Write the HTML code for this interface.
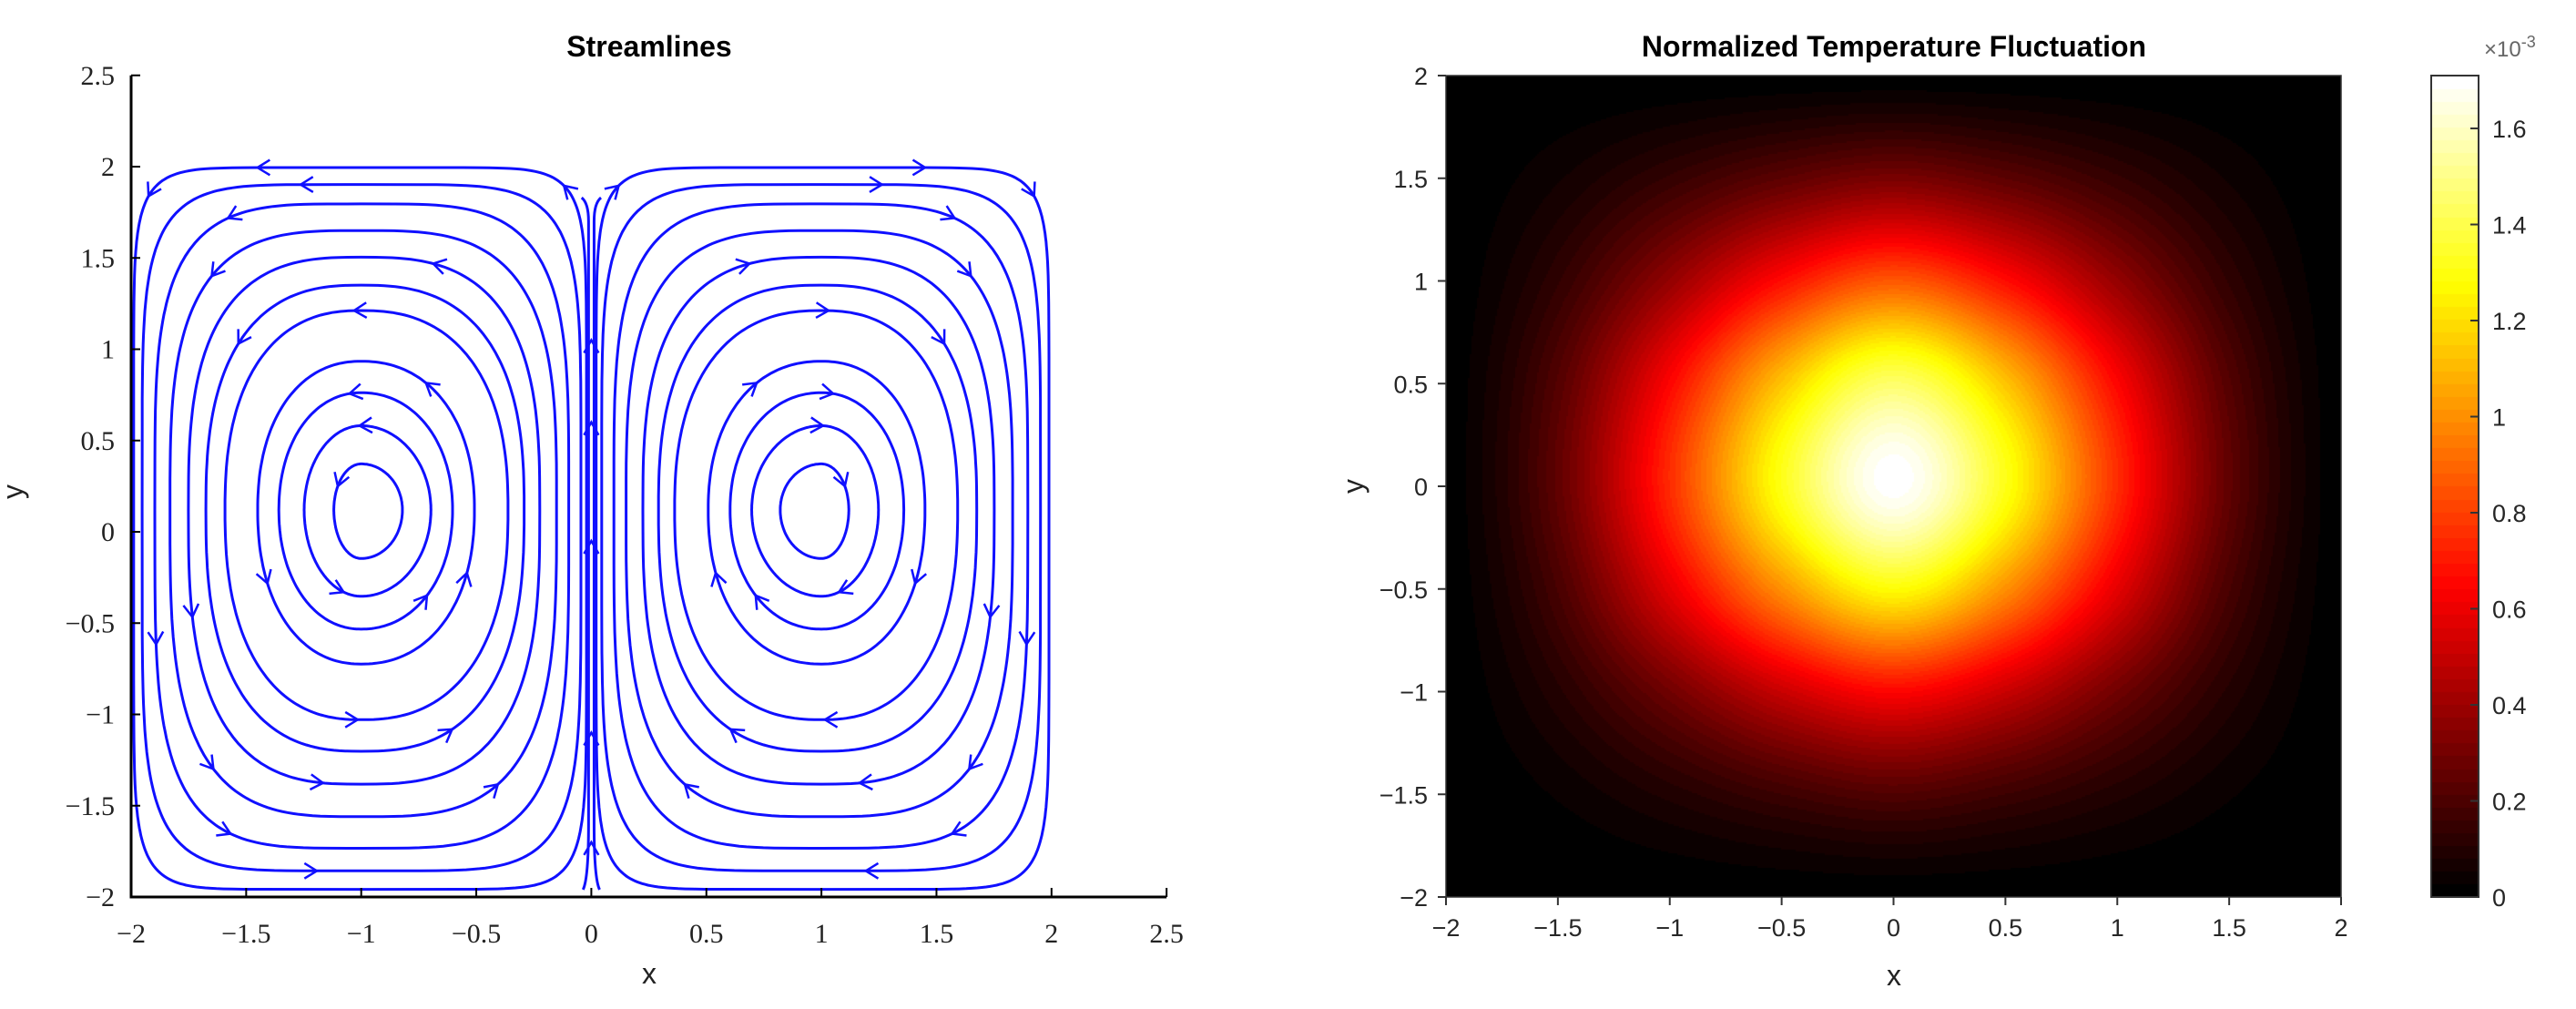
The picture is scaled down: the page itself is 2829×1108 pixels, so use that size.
<!DOCTYPE html>
<html><head><meta charset="utf-8">
<style>
html,body{margin:0;padding:0;background:#fff;}
#wrap{position:relative;width:2829px;height:1108px;overflow:hidden;background:#fff;}
svg{position:absolute;left:0;top:0;}
#heat{position:absolute;left:1588px;top:83px;}
#cbar{position:absolute;left:2670px;top:83px;}
</style></head>
<body>
<div id="wrap">
<canvas id="heat" width="983" height="902"></canvas>
<canvas id="cbar" width="52" height="902"></canvas>
<svg id="svg" width="2829" height="1108" xmlns="http://www.w3.org/2000/svg"></svg>
</div>
<script>
// ---- Streamline data: left cell loops, data units ----
const loopXmin = [-1.119,-1.248,-1.358,-1.450,-1.592,-1.675,-1.751,-1.831,-1.897,-1.952,-1.989];
const loopXmax = [-0.821,-0.697,-0.603,-0.508,-0.362,-0.292,-0.224,-0.151,-0.098,-0.045,-0.021];
const loopYmax = [0.372,0.581,0.762,0.934,1.212,1.351,1.504,1.650,1.796,1.902,1.995];
const loopYmin = [-0.146,-0.353,-0.533,-0.724,-1.029,-1.202,-1.382,-1.560,-1.733,-1.857,-1.958];
const cellCenterX = -1.0, cellCenterY = 0.12;
const xTicksLeft = [-2,-1.5,-1,-0.5,0,0.5,1,1.5,2,2.5];
const yTicksLeft = [2.5,2,1.5,1,0.5,0,-0.5,-1,-1.5,-2];
// ---- Heatmap data (values x1e-3), rows y=2..-2, cols x=-2..2 step 0.5 ----
const heatX = [-2,-1.5,-1,-0.5,0,0.5,1,1.5,2];
const heatY = [2,1.5,1,0.5,0,-0.5,-1,-1.5,-2];
const heatRow0 = [0,0,0,0,0,0,0,0,0];
const heatRow1 = [0,.05,.14,.24,.31,.24,.14,.05,0];
const heatRow2 = [0,.13,.38,.67,.86,.67,.38,.13,0];
const heatRow3 = [0,.22,.65,1.13,1.45,1.13,.65,.22,0];
const heatRow4 = [0,.25,.75,1.31,1.70,1.31,.75,.25,0];
const heatRow5 = [0,.19,.58,1.00,1.28,1.00,.58,.19,0];
const heatRow6 = [0,.10,.29,.51,.65,.51,.29,.10,0];
const heatRow7 = [0,.03,.09,.16,.21,.16,.09,.03,0];
const heatRow8 = [0,0,0,0,0,0,0,0,0];
const heatRows = [heatRow0,heatRow1,heatRow2,heatRow3,heatRow4,heatRow5,heatRow6,heatRow7,heatRow8];
const cMin = 0, cMax = 1.71;
const xTicksRight = [-2,-1.5,-1,-0.5,0,0.5,1,1.5,2];
const yTicksRight = [2,1.5,1,0.5,0,-0.5,-1,-1.5,-2];
const cbarTicks = [0,0.2,0.4,0.6,0.8,1,1.2,1.4,1.6];

const NS="http://www.w3.org/2000/svg";
const svg=document.getElementById('svg');
function mk(tag,attrs,parent){const e=document.createElementNS(NS,tag);for(const k in attrs)e.setAttribute(k,attrs[k]);(parent||svg).appendChild(e);return e;}
function fmt(v){return (v<0?'\u2212':'')+String(Math.abs(v));}

const LX=x=>144+(x+2)*252.7, LY=y=>183+(2-y)*200.5;
const RX=x=>1588+(x+2)*245.75, RY=y=>83+(2-y)*225.5;
const CY=v=>985-(v-cMin)/(cMax-cMin)*902;

// ---------- LEFT: streamlines ----------
const gL=mk('g',{});


const sq=[2,2,2.1,2.2,2.4,2.6,2.9,3.3,4,5.5,9];
function loopPt(i,th,mirror){
  const c=Math.cos(th), s=Math.sin(th), n=sq[i];
  const pc=Math.sign(c)*Math.pow(Math.abs(c),2/n), ps=Math.sign(s)*Math.pow(Math.abs(s),2/n);
  let x = pc>=0 ? cellCenterX+pc*(loopXmax[i]-cellCenterX) : cellCenterX+pc*(cellCenterX-loopXmin[i]);
  let y = ps>=0 ? cellCenterY+ps*(loopYmax[i]-cellCenterY) : cellCenterY+ps*(cellCenterY-loopYmin[i]);
  if(mirror) x=-x;
  return [LX(x),LY(y)];
}
const arrowTh=[[2.6],[1.6,4.4],[1.7,5.5],[1.0,3.6,5.9],[1.6,4.7],[2.4,5.2],[1.3,3.4,4.6],[2.3,4.0,5.3],[2.0,3.3,4.3],[1.6,4.7],[1.6,2.4,0.9]];
[false,true].forEach(mirror=>{
  for(let i=0;i<loopXmin.length;i++){
    let d='';
    for(let k=0;k<=240;k++){const p=loopPt(i,k/240*2*Math.PI,mirror);d+=(k?'L':'M')+p[0].toFixed(1)+' '+p[1].toFixed(1);}
    const path=mk('path',{d:d+'Z',fill:'none',stroke:'#1010ff','stroke-width':3},gL);
    
    
    arrowTh[i].forEach(th=>{
      const a=loopPt(i,th,mirror), b=loopPt(i,th+0.02,mirror);
      const ang=Math.atan2(b[1]-a[1],b[0]-a[0]);
      const L=16,W=0.55;
      const p1=[a[0]-L*Math.cos(ang-W),a[1]-L*Math.sin(ang-W)];
      const p2=[a[0]-L*Math.cos(ang+W),a[1]-L*Math.sin(ang+W)];
      const ar=mk('path',{d:`M${p1[0]} ${p1[1]}L${a[0]} ${a[1]}L${p2[0]} ${p2[1]}`,fill:'none',stroke:'#1010ff','stroke-width':2.5},gL);
      
      
    });
  }
});
[-0.012,0.012].forEach((x0,j)=>{
  const sx=x0<0?-1:1;
  const d=`M${LX(x0*3)} ${LY(-1.96)} Q${LX(x0)} ${LY(-1.9)} ${LX(x0)} ${LY(-1.6)} L${LX(x0)} ${LY(1.7)} Q${LX(x0)} ${LY(1.8)} ${LX(x0+sx*0.03)} ${LY(1.83)}`;
  const p=mk('path',{d:d,fill:'none',stroke:'#1010ff','stroke-width':3},gL);
  
  
});
[-1.7,-1.1,-0.05,0.6,1.05].forEach(yv=>{
  const a=[LX(0),LY(yv)];
  const ar=mk('path',{d:`M${a[0]-8} ${a[1]+14}L${a[0]} ${a[1]}L${a[0]+8} ${a[1]+14}`,fill:'none',stroke:'#1010ff','stroke-width':2.5},gL);
  
  
});
const axL=mk('path',{d:`M${LX(-2)} ${LY(2.5)}L${LX(-2)} ${LY(-2)}L${LX(2.5)} ${LY(-2)}`,fill:'none',stroke:'#000','stroke-width':3});


xTicksLeft.forEach(v=>{
  const t=mk('line',{x1:LX(v),x2:LX(v),y1:LY(-2),y2:LY(-2)-10,stroke:'#000','stroke-width':2});
  
  
  const l=mk('text',{x:LX(v),y:1035,'text-anchor':'middle','font-family':'Liberation Serif, serif','font-size':30,fill:'#222'});
  l.textContent=fmt(v);
  
  
});
yTicksLeft.forEach(v=>{
  const t=mk('line',{x1:LX(-2),x2:LX(-2)+10,y1:LY(v),y2:LY(v),stroke:'#000','stroke-width':2});
  
  
  const l=mk('text',{x:126,y:LY(v)+10,'text-anchor':'end','font-family':'Liberation Serif, serif','font-size':30,fill:'#222'});
  l.textContent=fmt(v);
  
  
});
let t;
t=mk('text',{x:713,y:62,'text-anchor':'middle','font-family':'Liberation Sans, sans-serif','font-size':32,'font-weight':'bold',fill:'#000'});t.textContent='Streamlines';

t=mk('text',{x:713,y:1080,'text-anchor':'middle','font-family':'Liberation Sans, sans-serif','font-size':32,fill:'#222'});t.textContent='x';

t=mk('text',{x:25,y:540,'text-anchor':'middle','font-family':'Liberation Sans, sans-serif','font-size':32,fill:'#222',transform:'rotate(-90 25 540)'});t.textContent='y';


// ---------- RIGHT: heatmap ----------
function hot(v){
  let s=(v-cMin)/(cMax-cMin); s=Math.max(0,Math.min(1,s));
  s=Math.floor(s*63.999)/63;
  const r=Math.min(1,s/0.375), g=Math.max(0,Math.min(1,(s-0.375)/0.375)), b=Math.max(0,Math.min(1,(s-0.75)/0.25));
  return [r*255,g*255,b*255];
}
function cr(p0,p1,p2,p3,t){return 0.5*((2*p1)+(-p0+p2)*t+(2*p0-5*p1+4*p2-p3)*t*t+(-p0+3*p1-3*p2+p3)*t*t*t);}
function gv(r,c){r=Math.max(0,Math.min(heatY.length-1,r));c=Math.max(0,Math.min(heatX.length-1,c));return heatRows[r][c];}
function sample(x,y){
  const fc=(x-heatX[0])/(heatX[1]-heatX[0]), fr=(heatY[0]-y)/(heatY[0]-heatY[1]);
  const c=Math.min(heatX.length-2,Math.floor(fc)), r=Math.min(heatY.length-2,Math.floor(fr));
  const tx=fc-c, ty=fr-r;
  const rows=[];
  for(let k=-1;k<=2;k++) rows.push(cr(gv(r+k,c-1),gv(r+k,c),gv(r+k,c+1),gv(r+k,c+2),tx));
  return Math.max(0,cr(rows[0],rows[1],rows[2],rows[3],ty));
}
const hc=document.getElementById('heat').getContext('2d');
const W=983,H=902,img=hc.createImageData(W,H);
for(let py=0;py<H;py+=2){for(let px=0;px<W;px+=2){
  const x=-2+(px+1)/245.75, y=2-(py+1)/225.5;
  const col=hot(sample(x,y));
  for(let dy=0;dy<2;dy++)for(let dx=0;dx<2;dx++){
    if(px+dx>=W||py+dy>=H)continue;
    const i=((py+dy)*W+px+dx)*4;img.data[i]=col[0];img.data[i+1]=col[1];img.data[i+2]=col[2];img.data[i+3]=255;}
}}
hc.putImageData(img,0,0);
const cc=document.getElementById('cbar').getContext('2d');
for(let py=0;py<902;py++){const c=hot(cMax-(py/902)*(cMax-cMin));cc.fillStyle=`rgb(${c[0]|0},${c[1]|0},${c[2]|0})`;cc.fillRect(0,py,52,1);}

const boxR=mk('rect',{x:RX(-2),y:RY(2),width:RX(2)-RX(-2),height:RY(-2)-RY(2),fill:'none',stroke:'#333','stroke-width':1.5});

xTicksRight.forEach(v=>{
  const tk=mk('line',{x1:RX(v),x2:RX(v),y1:RY(-2),y2:RY(-2)+9,stroke:'#333','stroke-width':2});
  
  const l=mk('text',{x:RX(v),y:1028,'text-anchor':'middle','font-family':'Liberation Sans, sans-serif','font-size':27,fill:'#262626'});
  l.textContent=fmt(v);
});
yTicksRight.forEach(v=>{
  const tk=mk('line',{x1:RX(-2)-9,x2:RX(-2),y1:RY(v),y2:RY(v),stroke:'#333','stroke-width':2});
  
  const l=mk('text',{x:1568,y:RY(v)+10,'text-anchor':'end','font-family':'Liberation Sans, sans-serif','font-size':27,fill:'#262626'});
  l.textContent=fmt(v);
});
t=mk('text',{x:2080,y:62,'text-anchor':'middle','font-family':'Liberation Sans, sans-serif','font-size':32,'font-weight':'bold',fill:'#000'});t.textContent='Normalized Temperature Fluctuation';

t=mk('text',{x:2080,y:1082,'text-anchor':'middle','font-family':'Liberation Sans, sans-serif','font-size':32,fill:'#222'});t.textContent='x';

t=mk('text',{x:1497,y:534,'text-anchor':'middle','font-family':'Liberation Sans, sans-serif','font-size':32,fill:'#222',transform:'rotate(-90 1497 534)'});t.textContent='y';


const cb=mk('rect',{x:2670,y:83,width:52,height:902,fill:'none',stroke:'#333','stroke-width':2});

cbarTicks.forEach(v=>{
  const tk=mk('line',{x1:2713,x2:2722,y1:CY(v),y2:CY(v),stroke:'#333','stroke-width':2});
  
  const l=mk('text',{x:2737,y:CY(v)+10,'text-anchor':'start','font-family':'Liberation Sans, sans-serif','font-size':27,fill:'#262626'});
  l.textContent=String(v);
});
t=mk('text',{x:2728,y:62,'font-family':'Liberation Sans, sans-serif','font-size':24,fill:'#666'});

t.innerHTML='×10<tspan dy="-10" font-size="18">-3</tspan>';
</script>
</body></html>
